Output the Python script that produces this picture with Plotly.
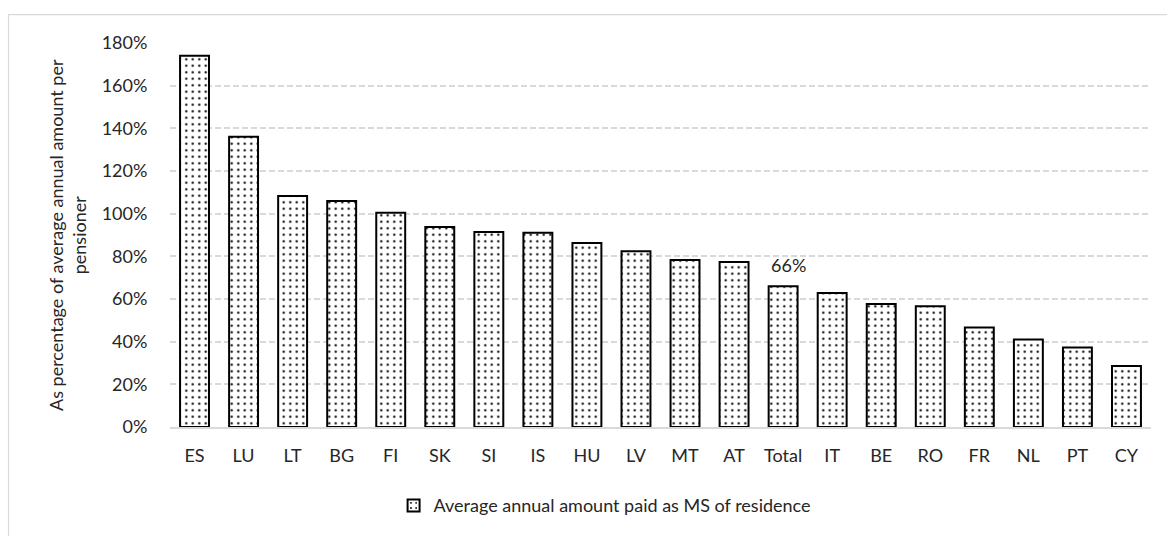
import plotly.graph_objects as go

# Member states, ordered by value, with the EU total in its rank position
countries = ["ES", "LU", "LT", "BG", "FI", "SK", "SI", "IS", "HU", "LV",
             "MT", "AT", "Total", "IT", "BE", "RO", "FR", "NL", "PT", "CY"]
# Average annual amount paid as MS of residence, % of average per pensioner
share_pct = [174.0, 136.0, 108.3, 105.9, 100.4, 93.7, 91.4, 91.1, 86.2, 82.4,
             78.3, 77.3, 66.0, 62.8, 57.7, 56.6, 46.6, 41.0, 37.3, 28.6]
labelled = ["Total"]
y_ticks = [0, 20, 40, 60, 80, 100, 120, 140, 160, 180]
y_tick_text = [f"{t}%" for t in y_ticks]

FONT = "Lato, Calibri, Arial, sans-serif"
TXT = "#262626"
GRID = "#D9D9D9"

fig = go.Figure()
fig.add_trace(go.Bar(
    x=countries,
    y=share_pct,
    name="Average annual amount paid as MS of residence",
    marker=dict(
        color="white",
        line=dict(color="black", width=2),
        pattern=dict(shape=".", fgcolor="black", bgcolor="white",
                     size=6.5, solidity=0.1, fillmode="replace"),
    ),
    showlegend=True,
))

# value label above the highlighted bar(s)
value_labels = [
    dict(
        x=c, y=v, xref="x", yref="y",
        text=f"{v:.0f}%",
        showarrow=False,
        yanchor="bottom",
        xshift=5, yshift=8,
        font=dict(family=FONT, size=18, color=TXT),
    )
    for c, v in zip(countries, share_pct) if c in labelled
]

fig.update_layout(
    width=1167,
    height=536,
    margin=dict(l=170, r=16, t=43, b=107),
    paper_bgcolor="white",
    plot_bgcolor="white",
    bargap=0.41,
    font=dict(family=FONT, size=18, color=TXT),
    showlegend=True,
    legend=dict(
        orientation="h",
        x=0.443, y=-0.205,
        xanchor="center", yanchor="middle",
        font=dict(family=FONT, size=18, color=TXT),
        itemwidth=30,
        bgcolor="rgba(0,0,0,0)",
    ),
    xaxis=dict(
        type="category",
        showgrid=False,
        showline=True,
        linecolor=GRID,
        linewidth=1.5,
        ticks="outside",
        ticklen=12,
        tickcolor="rgba(0,0,0,0)",
        tickfont=dict(family=FONT, size=18, color=TXT),
        fixedrange=True,
    ),
    yaxis=dict(
        range=[0, 180],
        tickmode="array",
        tickvals=y_ticks,
        ticktext=y_tick_text,
        showgrid=True,
        gridcolor=GRID,
        gridwidth=1.5,
        griddash="6px,3px",
        zeroline=False,
        showline=False,
        ticks="outside",
        ticklen=18,
        tickcolor="rgba(0,0,0,0)",
        tickfont=dict(family=FONT, size=18, color=TXT),
        fixedrange=True,
    ),
    annotations=value_labels + [dict(
        text="As percentage of average annual amount per<br>pensioner",
        xref="paper", yref="paper",
        x=-0.105, y=0.5,
        xanchor="center", yanchor="middle",
        textangle=-90,
        showarrow=False,
        font=dict(family=FONT, size=18, color=TXT),
    )],
    shapes=[dict(
        type="rect",
        xref="paper", yref="paper",
        x0=-0.1646, x1=1.03, y0=-0.30, y1=1.0738,
        line=dict(color=GRID, width=1.2),
        fillcolor="rgba(0,0,0,0)",
        layer="below",
    )],
)

fig.write_html("out.html")
